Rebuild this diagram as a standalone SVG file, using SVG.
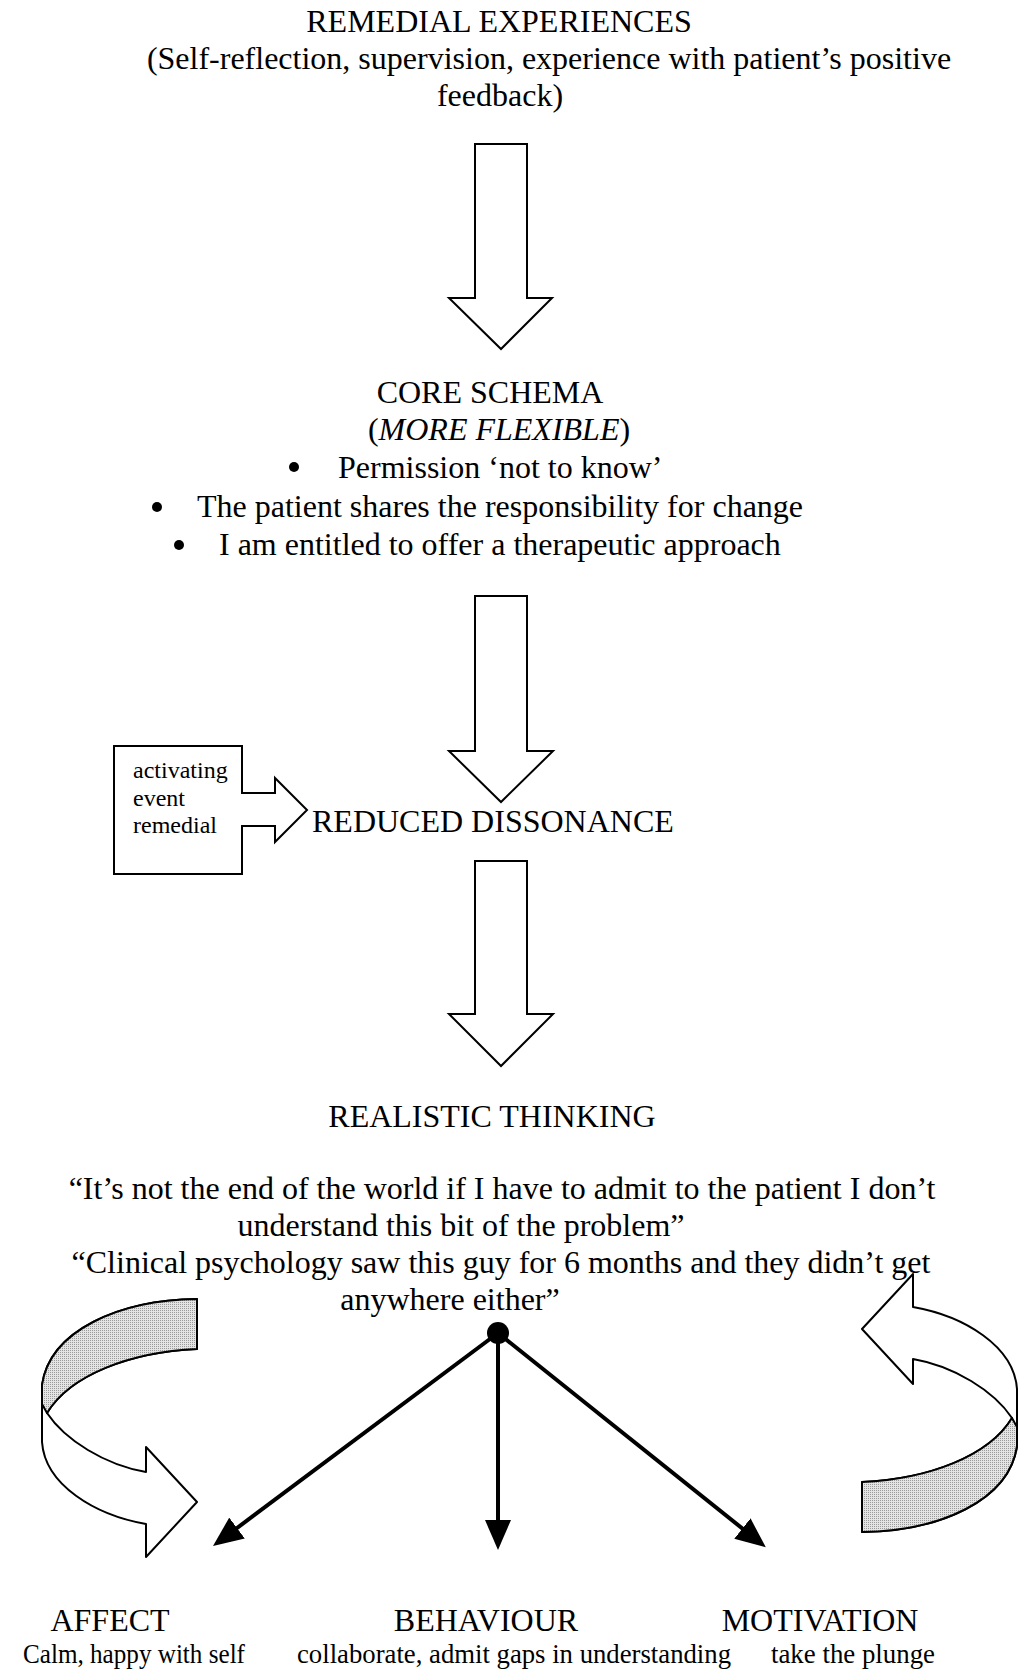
<svg xmlns="http://www.w3.org/2000/svg" width="1025" height="1671" viewBox="0 0 1025 1671">
  <style>
    text { font-family: "Liberation Serif", "Times New Roman", serif; fill: #000; }
    .t { font-size: 32px; }
    .m { text-anchor: middle; }
    .small { font-size: 24px; }
    .sub { font-size: 26.5px; }
    .block { fill: #fff; stroke: #000; stroke-width: 2; stroke-linejoin: miter; }
    .ribbon { fill: #fff; stroke: #000; stroke-width: 2; stroke-linejoin: round; }
    .shade { fill: url(#stipple); stroke: #000; stroke-width: 2; stroke-linejoin: round; }
    .link { stroke: #000; stroke-width: 4; fill: none; marker-end: url(#head); }
    .bullet { fill: #000; }
  </style>
  <defs>
    <pattern id="stipple" width="2" height="2" patternUnits="userSpaceOnUse">
      <rect width="2" height="2" fill="#e4e4e4"/>
      <rect width="1" height="1" fill="#9a9a9a"/>
    </pattern>
    <marker id="head" viewBox="0 0 30 26" refX="20" refY="13" markerWidth="30" markerHeight="26" markerUnits="userSpaceOnUse" orient="auto">
      <path d="M0,0 L30,13 L0,26 Z" fill="#000"/>
    </marker>
    <!-- twisted ribbon arrow, head pointing right -->
    <g id="ribbon">
      <path class="ribbon" d="M197,1299 C120,1300 50,1330 42,1385 L42,1442 C45,1485 95,1515 146,1524 L146,1557 L197,1502 L146,1447 L146,1472 C105,1465 65,1440 47,1413 C70,1375 130,1352 197,1349 Z"/>
      <path class="shade" d="M197,1299 C120,1300 50,1330 42,1385 L42,1404 L47,1413 C70,1375 130,1352 197,1349 Z"/>
    </g>
  </defs>

  <g id="remedial-experiences">
    <text class="t m" x="499" y="32">REMEDIAL EXPERIENCES</text>
    <text class="t m" x="549" y="69">(Self-reflection, supervision, experience with patient’s positive</text>
    <text class="t m" x="500" y="106">feedback)</text>
  </g>

  <g id="core-schema">
    <text class="t m" x="490" y="403">CORE SCHEMA</text>
    <text class="t m" x="499" y="440">(<tspan font-style="italic">MORE FLEXIBLE</tspan>)</text>
    <circle class="bullet" cx="294" cy="467" r="5"/>
    <text class="t" x="338" y="478">Permission ‘not to know’</text>
    <circle class="bullet" cx="157" cy="507" r="5"/>
    <text class="t" x="197" y="517">The patient shares the responsibility for change</text>
    <circle class="bullet" cx="179" cy="545" r="5"/>
    <text class="t" x="219" y="555">I am entitled to offer a therapeutic approach</text>
  </g>

  <g id="activating-event">
    <path class="block" d="M242,793 V746 H114 V874 H242 V826 H275 V842 L307,810 L275,778 V793 Z"/>
    <text class="small" x="133" y="778">activating</text>
    <text class="small" x="133" y="806">event</text>
    <text class="small" x="133" y="833">remedial</text>
  </g>

  <g id="reduced-dissonance">
    <text class="t" x="312" y="832">REDUCED DISSONANCE</text>
  </g>

  <g id="realistic-thinking">
    <text class="t m" x="492" y="1127">REALISTIC THINKING</text>
    <text class="t m" x="502" y="1199">“It’s not the end of the world if I have to admit to the patient I don’t</text>
    <text class="t m" x="461" y="1236">understand this bit of the problem”</text>
    <text class="t m" x="501" y="1273">“Clinical psychology saw this guy for 6 months and they didn’t get</text>
    <text class="t m" x="450" y="1310">anywhere either”</text>
  </g>

  <g id="affect">
    <text class="t m" x="110" y="1631">AFFECT</text>
    <text class="sub" x="23" y="1663" textLength="222" lengthAdjust="spacingAndGlyphs">Calm, happy with self</text>
  </g>
  <g id="behaviour">
    <text class="t m" x="486" y="1631">BEHAVIOUR</text>
    <text class="sub" x="297" y="1663" textLength="434" lengthAdjust="spacingAndGlyphs">collaborate, admit gaps in understanding</text>
  </g>
  <g id="motivation">
    <text class="t m" x="820" y="1631">MOTIVATION</text>
    <text class="sub" x="771" y="1663" textLength="164" lengthAdjust="spacingAndGlyphs">take the plunge</text>
  </g>

  <g id="connectors">
    <!-- block arrows down the main chain -->
    <path class="block" d="M475,144 H527 V298 H552 L501,349 L449,298 H475 Z"/>
    <path class="block" d="M475,596 H527 V751 H553 L501,802 L449,751 H475 Z"/>
    <path class="block" d="M475,861 H527 V1014 H553 L501,1066 L449,1014 H475 Z"/>
    <!-- feedback loops either side -->
    <use href="#ribbon"/>
    <use href="#ribbon" transform="rotate(180 529.5 1415.5)"/>
    <!-- branching from realistic thinking -->
    <line class="link" x1="498" y1="1333" x2="221" y2="1540"/>
    <line class="link" x1="498" y1="1333" x2="498" y2="1540"/>
    <line class="link" x1="498" y1="1333" x2="758" y2="1541"/>
    <circle cx="498" cy="1333" r="11" fill="#000"/>
  </g>
</svg>
